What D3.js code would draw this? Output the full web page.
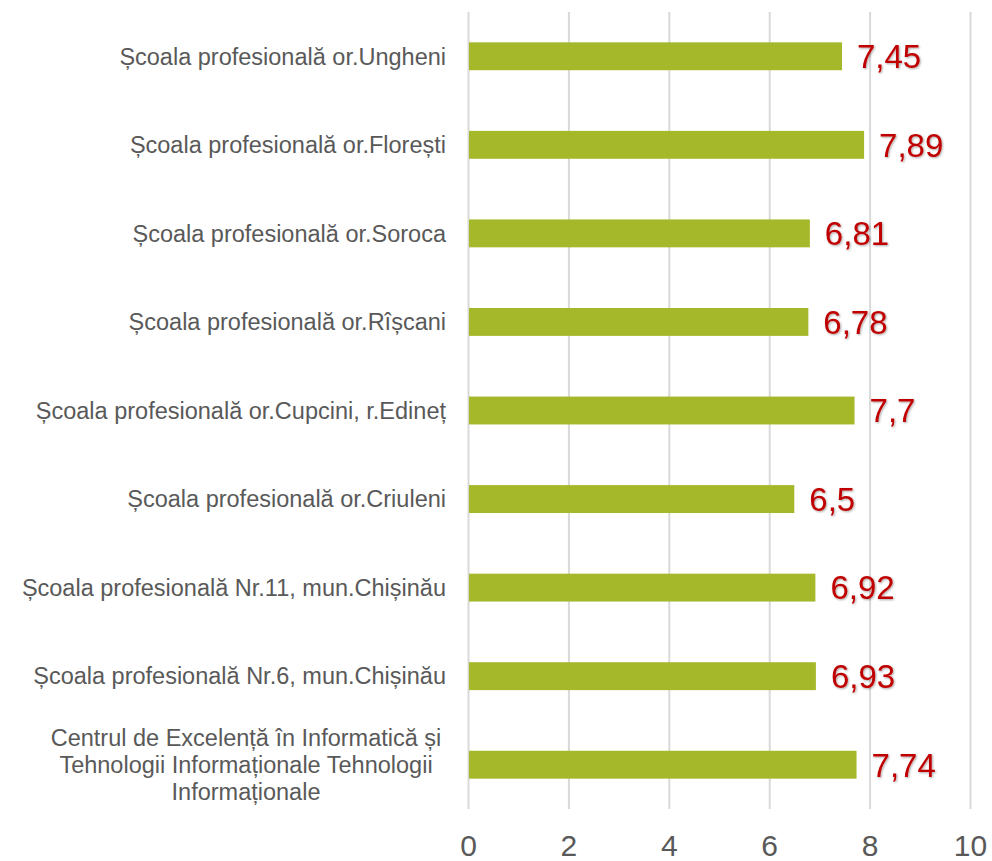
<!DOCTYPE html>
<html>
<head>
<meta charset="utf-8">
<script src="https://cdn.jsdelivr.net/npm/d3@7"></script>
<style>
  body { margin: 0; background: #fff; }
  text { font-family: "Liberation Sans", Arial, sans-serif; }
</style>
</head>
<body>
<div id="chart"></div>
<script>
// Chart data.
const categories = [
  ["Școala profesională or.Ungheni"],
  ["Școala profesională or.Florești"],
  ["Școala profesională or.Soroca"],
  ["Școala profesională or.Rîșcani"],
  ["Școala profesională or.Cupcini, r.Edineț"],
  ["Școala profesională or.Criuleni"],
  ["Școala profesională Nr.11, mun.Chișinău"],
  ["Școala profesională Nr.6, mun.Chișinău"],
  ["Centrul de Excelență în Informatică și", "Tehnologii Informaționale Tehnologii", "Informaționale"]
];
const values = [7.45, 7.89, 6.81, 6.78, 7.7, 6.5, 6.92, 6.93, 7.74];
const tickValues = [0, 2, 4, 6, 8, 10];

const WIDTH = 992;
const HEIGHT = 861;
const MARGIN = { left: 468, right: 22, top: 12, bottom: 52 };
const BAR_COLOR = "#a5b82a";
const LABEL_COLOR = "#c00000";
const TEXT_COLOR = "#595959";

const svg = d3.select("#chart").append("svg")
  .attr("width", WIDTH)
  .attr("height", HEIGHT);

const xScale = d3.scaleLinear()
  .domain([0, 10])
  .range([MARGIN.left, WIDTH - MARGIN.right]);

const yScale = d3.scaleBand()
  .domain(d3.range(categories.length))
  .range([MARGIN.top, HEIGHT - MARGIN.bottom])
  .paddingInner(0.685)
  .paddingOuter(0.3425);

// gridlines
svg.append("g").selectAll("line")
  .data(tickValues)
  .enter()
  .append("line")
  .attr("x1", d => xScale(d) + 0.5)
  .attr("x2", d => xScale(d) + 0.5)
  .attr("y1", MARGIN.top)
  .attr("y2", HEIGHT - MARGIN.bottom)
  .attr("stroke", "#d9d9d9")
  .attr("stroke-width", 2);

// x axis labels
const xAxis = d3.axisBottom(xScale).tickValues(tickValues).tickSize(0).tickPadding(0);
const xg = svg.append("g")
  .attr("transform", "translate(0," + (HEIGHT - MARGIN.bottom) + ")")
  .call(xAxis);
xg.select(".domain").remove();
xg.selectAll("text")
  .attr("y", 47)
  .attr("dy", 0)
  .style("font-size", "30px")
  .style("font-family", "'Liberation Sans', Arial, sans-serif")
  .attr("fill", TEXT_COLOR);

// bars
svg.append("g").selectAll("rect")
  .data(values)
  .enter()
  .append("rect")
  .attr("x", xScale(0) + 1)
  .attr("y", (d, i) => yScale(i))
  .attr("width", d => xScale(d) - xScale(0) - 1)
  .attr("height", yScale.bandwidth())
  .attr("fill", BAR_COLOR);

// value labels
const fmt = d => String(d).replace(".", ",");
const shadow = svg.append("defs").append("filter").attr("id", "shadow");
shadow.append("feDropShadow")
  .attr("dx", 1).attr("dy", 1).attr("stdDeviation", 0.8)
  .attr("flood-color", "#000").attr("flood-opacity", 0.35);

svg.append("g").selectAll("text")
  .data(values)
  .enter()
  .append("text")
  .attr("x", d => xScale(d) + 15)
  .attr("y", (d, i) => yScale(i) + yScale.bandwidth() / 2)
  .attr("dy", "0.36em")
  .attr("fill", LABEL_COLOR)
  .attr("filter", "url(#shadow)")
  .style("font-size", "33px")
  .text(fmt);

// category labels
const catG = svg.append("g");
categories.forEach((lines, i) => {
  const cy = yScale(i) + yScale.bandwidth() / 2;
  const multi = lines.length > 1;
  const lineH = 27;
  const t = catG.append("text")
    .attr("fill", TEXT_COLOR)
    .style("font-size", "23.5px")
    .attr("text-anchor", multi ? "middle" : "end");
  lines.forEach((ln, j) => {
    t.append("tspan")
      .attr("x", multi ? 246 : 446)
      .attr("y", cy + (j - (lines.length - 1) / 2) * lineH)
      .attr("dy", "0.35em")
      .text(ln);
  });
});
</script>
</body>
</html>
